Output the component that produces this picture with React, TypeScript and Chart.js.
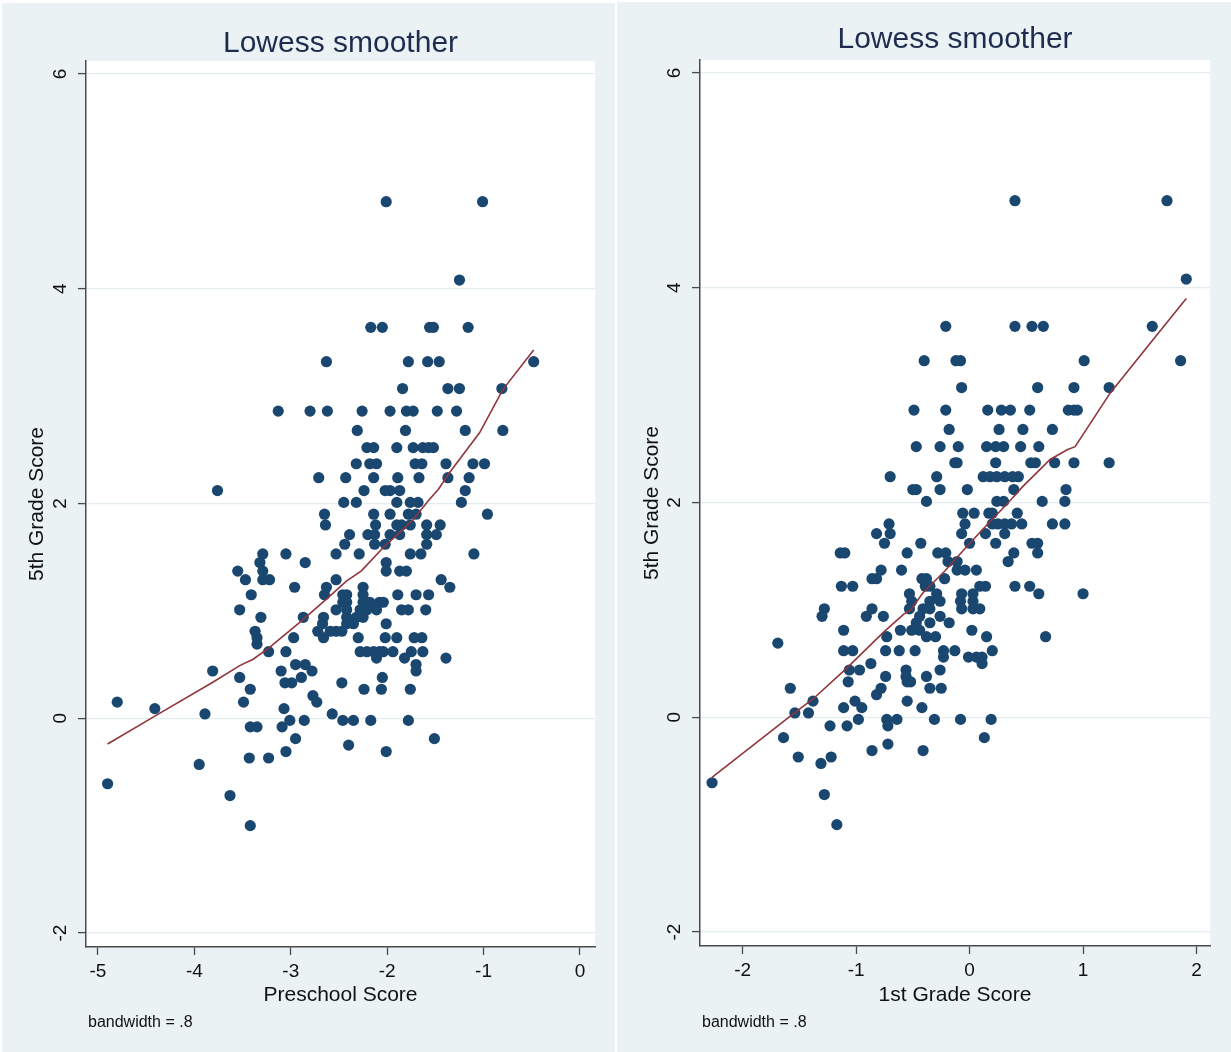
import React, { useEffect, useRef } from "react";
import { Chart, registerables } from "chart.js";

Chart.register(...registerables);

const FONT = '"Liberation Sans", Arial, Helvetica, sans-serif';

const CHART_TITLE = "Lowess smoother";
const NOTE = "bandwidth = .8";
const Y_TITLE = "5th Grade Score";
const PRESCHOOL_TITLE = "Preschool Score";
const FIRST_GRADE_TITLE = "1st Grade Score";

const Y_TICKS = [-2, 0, 2, 4, 6];
const PRESCHOOL_TICKS = [-5, -4, -3, -2, -1, 0];
const FIRST_GRADE_TICKS = [-2, -1, 0, 1, 2];

// [5th grade score, preschool scores of students with that 5th grade score]
const PRESCHOOL_ROWS: [number, number[]][] = [
  [4.81, [-2.01, -1.01]],
  [4.08, [-1.25]],
  [3.64, [-2.17, -2.05, -1.56, -1.52, -1.16]],
  [3.32, [-2.63, -1.78, -1.58, -1.46, -0.48]],
  [3.07, [-1.84, -1.37, -1.25, -0.81]],
  [2.86, [-3.13, -2.8, -2.62, -2.26, -1.97, -1.8, -1.73, -1.48, -1.28]],
  [2.68, [-2.31, -1.81, -1.19, -0.8]],
  [2.52, [-2.21, -2.14, -1.9, -1.73, -1.63, -1.57, -1.52]],
  [2.37, [-2.32, -2.18, -2.11, -1.71, -1.64, -1.39, -1.11, -0.99]],
  [2.24, [-2.71, -2.43, -2.14, -1.89, -1.67, -1.37, -1.15]],
  [2.12, [-3.76, -2.24, -2.02, -1.97, -1.87, -1.19]],
  [2.01, [-2.45, -2.32, -1.9, -1.76, -1.68, -1.23]],
  [1.9, [-2.65, -2.14, -1.97, -1.78, -1.7, -0.96]],
  [1.8, [-2.64, -2.12, -1.9, -1.85, -1.76, -1.59, -1.45]],
  [1.71, [-2.39, -2.2, -2.13, -1.97, -1.87, -1.59, -1.49]],
  [1.62, [-2.44, -2.13, -2.02, -1.59]],
  [1.53, [-3.29, -3.05, -2.53, -2.29, -1.76, -1.65, -1.1]],
  [1.45, [-3.32, -2.85, -2.01]],
  [1.37, [-3.55, -3.29, -2.01, -1.87, -1.8]],
  [1.29, [-3.47, -3.29, -3.22, -2.53, -1.44]],
  [1.22, [-2.96, -2.63, -2.25, -1.35]],
  [1.15, [-3.41, -2.65, -2.46, -2.42, -2.25, -1.89, -1.7, -1.57]],
  [1.08, [-2.46, -2.42, -2.25, -2.18, -2.08, -2.04]],
  [1.01, [-3.53, -2.53, -2.42, -2.28, -2.21, -2.11, -1.85, -1.78, -1.6]],
  [0.94, [-3.31, -2.87, -2.66, -2.42, -2.32, -2.25]],
  [0.88, [-2.67, -2.42, -2.35, -2.01]],
  [0.81, [-3.37, -2.72, -2.59, -2.53, -2.47]],
  [0.75, [-3.35, -2.97, -2.66, -2.3, -2.02, -1.9, -1.72, -1.64]],
  [0.69, [-3.35]],
  [0.62, [-3.23, -3.05, -2.28, -2.21, -2.14, -2.08, -2.04, -1.94, -1.75, -1.63]],
  [0.56, [-2.11, -1.82, -1.39]],
  [0.5, [-2.95, -2.85, -1.7]],
  [0.44, [-3.81, -3.1, -2.78, -1.7]],
  [0.38, [-3.53, -2.89, -2.05]],
  [0.33, [-3.06, -2.99, -2.47]],
  [0.27, [-3.42, -2.24, -2.06, -1.76]],
  [0.21, [-2.77]],
  [0.15, [-4.8, -3.49, -2.73]],
  [0.09, [-4.41, -3.07]],
  [0.04, [-3.89, -2.57]],
  [-0.02, [-3.01, -2.86, -2.46, -2.35, -2.17, -1.78]],
  [-0.08, [-3.42, -3.35, -3.09]],
  [-0.19, [-2.95, -1.51]],
  [-0.25, [-2.4]],
  [-0.31, [-3.05, -2.01]],
  [-0.37, [-3.43, -3.23]],
  [-0.43, [-3.95]],
  [-0.61, [-4.9]],
  [-0.72, [-3.63]],
  [-1.0, [-3.42]],
];

// [5th grade score, 1st grade scores of students with that 5th grade score]
const FIRST_GRADE_ROWS: [number, number[]][] = [
  [4.81, [0.4, 1.74]],
  [4.08, [1.91]],
  [3.64, [-0.21, 0.4, 0.55, 0.65, 1.61]],
  [3.32, [-0.4, -0.12, -0.08, 1.01, 1.86]],
  [3.07, [-0.07, 0.6, 0.92, 1.23]],
  [2.86, [-0.49, -0.21, 0.16, 0.28, 0.36, 0.53, 0.87, 0.92, 0.95]],
  [2.68, [-0.18, 0.26, 0.47, 0.73]],
  [2.52, [-0.47, -0.26, -0.1, 0.15, 0.23, 0.3, 0.45, 0.61]],
  [2.37, [-0.13, -0.11, 0.23, 0.54, 0.58, 0.75, 0.92, 1.23]],
  [2.24, [-0.7, -0.29, 0.12, 0.18, 0.24, 0.31, 0.38, 0.43]],
  [2.12, [-0.5, -0.47, -0.26, -0.02, 0.39, 0.85]],
  [2.01, [-0.38, 0.24, 0.3, 0.64, 0.84]],
  [1.9, [-0.06, 0.04, 0.17, 0.2, 0.42]],
  [1.8, [-0.71, -0.04, 0.2, 0.25, 0.31, 0.37, 0.46, 0.73, 0.84]],
  [1.71, [-0.82, -0.7, -0.07, 0.14, 0.31]],
  [1.62, [-0.75, -0.43, 0.0, 0.23, 0.55, 0.6]],
  [1.53, [-1.14, -1.1, -0.55, -0.28, -0.21, 0.39, 0.6]],
  [1.45, [-0.19, -0.11, 0.34]],
  [1.37, [-0.78, -0.6, -0.11, -0.04, 0.06]],
  [1.29, [-0.86, -0.82, -0.42, -0.38, -0.22]],
  [1.22, [-1.13, -1.03, -0.39, -0.35, 0.09, 0.14, 0.4, 0.53]],
  [1.15, [-0.53, -0.29, -0.07, 0.03, 0.61, 1.0]],
  [1.08, [-0.51, -0.35, -0.26, -0.08, 0.03]],
  [1.01, [-1.28, -0.86, -0.53, -0.41, -0.35, -0.07, 0.03, 0.09]],
  [0.94, [-1.3, -0.91, -0.76, -0.44, -0.26]],
  [0.88, [-0.47, -0.35, -0.18]],
  [0.81, [-1.11, -0.61, -0.51, -0.44, 0.02]],
  [0.75, [-0.73, -0.38, -0.3, 0.15, 0.67]],
  [0.69, [-1.69]],
  [0.62, [-1.11, -1.03, -0.74, -0.62, -0.48, -0.23, -0.13, 0.2]],
  [0.56, [-0.23, -0.01, 0.06, 0.11]],
  [0.5, [-0.87, 0.11]],
  [0.44, [-1.06, -0.97, -0.56, -0.26]],
  [0.38, [-0.74, -0.56, -0.38]],
  [0.33, [-1.07, -0.55, -0.52]],
  [0.27, [-1.58, -0.78, -0.35, -0.25]],
  [0.21, [-0.82]],
  [0.15, [-1.38, -1.01, -0.55]],
  [0.09, [-1.11, -0.95, -0.42]],
  [0.04, [-1.54, -1.42]],
  [-0.02, [-0.98, -0.73, -0.64, -0.31, -0.08, 0.19]],
  [-0.08, [-1.23, -1.08, -0.72]],
  [-0.19, [-1.64, 0.13]],
  [-0.25, [-0.72]],
  [-0.31, [-0.86, -0.41]],
  [-0.37, [-1.51, -1.22]],
  [-0.43, [-1.31]],
  [-0.61, [-2.27]],
  [-0.72, [-1.28]],
  [-1.0, [-1.17]],
];

const PRESCHOOL_LOWESS_X = [-4.9, -4.41, -3.8, -3.53, -3.39, -3.22, -2.91, -2.63, -2.42, -2.27, -2.04, -1.87, -1.73, -1.56, -1.47, -1.35, -1.04, -0.8, -0.48];
const PRESCHOOL_LOWESS_Y = [-0.24, 0.02, 0.34, 0.49, 0.55, 0.66, 0.89, 1.11, 1.28, 1.37, 1.59, 1.73, 1.85, 2.04, 2.13, 2.29, 2.66, 3.06, 3.43];

const FIRST_GRADE_LOWESS_X = [-2.27, -1.58, -1.38, -1.08, -0.76, -0.58, -0.52, -0.41, -0.22, -0.11, 0.09, 0.36, 0.47, 0.71, 0.86, 0.93, 1.24, 1.59, 1.91];
const FIRST_GRADE_LOWESS_Y = [-0.56, 0.01, 0.17, 0.46, 0.79, 0.96, 1.0, 1.16, 1.36, 1.49, 1.72, 2.02, 2.15, 2.4, 2.49, 2.52, 3.02, 3.48, 3.9];

type PanelProps = {
  rows: [number, number[]][];
  lowessX: number[];
  lowessY: number[];
  xTicks: number[];
  xMin: number;
  xMax: number;
  xTitle: string;
  left: number;
  top: number;
  width: number;
  height: number;
  yAxisWidth: number;
  padRight: number;
  titleBaseline: number;
};

const BG = "#eaf2f3";
const AXIS = "#4a4a4a";
const GRID = "#e3edef";
const MARKER = "#1a476f";
const LINE = "#90353b";
const TITLE_COLOR = "#1f2c50";

function Panel(p: PanelProps) {
  const ref = useRef<HTMLCanvasElement | null>(null);
  useEffect(() => {
    if (!ref.current) return;
    const points = p.rows.flatMap(([y, xs]) => xs.map((x) => ({ x, y })));
    const line = p.lowessX.map((x, i) => ({ x, y: p.lowessY[i] }));
    const chartHeight = p.height;
    const decor = {
      id: "panelDecor",
      beforeDraw(chart: any) {
        const { ctx, chartArea: a } = chart;
        ctx.save();
        ctx.fillStyle = "#ffffff";
        ctx.fillRect(a.left, a.top, a.right - a.left, a.bottom - a.top);
        ctx.restore();
      },
      afterDraw(chart: any) {
        const { ctx, chartArea: a } = chart;
        const ys = chart.scales.y;
        ctx.save();
        ctx.fillStyle = "#111111";
        ctx.font = `19px ${FONT}`;
        ctx.textAlign = "center";
        ctx.textBaseline = "middle";
        for (const t of ys.ticks) {
          const py = ys.getPixelForValue(t.value);
          ctx.save();
          ctx.translate(a.left - 25, py);
          ctx.rotate(-Math.PI / 2);
          ctx.fillText(String(t.value), 0, 0);
          ctx.restore();
        }
        ctx.textBaseline = "alphabetic";
        ctx.fillStyle = TITLE_COLOR;
        ctx.font = `30px ${FONT}`;
        ctx.fillText(CHART_TITLE, (a.left + a.right) / 2, p.titleBaseline);
        ctx.fillStyle = "#111111";
        ctx.font = `16px ${FONT}`;
        ctx.textAlign = "left";
        ctx.fillText(NOTE, a.left + 2, chartHeight - 25);
        ctx.restore();
      },
    };
    const chart = new Chart(ref.current, {
      type: "scatter",
      data: {
        datasets: [
          {
            type: "line",
            data: line,
            borderColor: LINE,
            borderWidth: 1.6,
            pointRadius: 0,
            fill: false,
            tension: 0,
            showLine: true,
          } as any,
          {
            type: "scatter",
            data: points,
            backgroundColor: MARKER,
            borderWidth: 0,
            pointRadius: 5.6,
            pointHoverRadius: 5.6,
          },
        ],
      },
      options: {
        animation: false,
        responsive: false,
        events: [],
        layout: { padding: { left: 0, right: p.padRight, top: 58, bottom: 0 } },
        plugins: {
          legend: { display: false },
          title: { display: false },
          tooltip: { enabled: false },
        },
        scales: {
          x: {
            type: "linear",
            min: p.xMin,
            max: p.xMax,
            afterBuildTicks: (s: any) => {
              s.ticks = p.xTicks.map((v) => ({ value: v }));
            },
            afterFit: (s: any) => {
              s.height = chartHeight - 944;
            },
            grid: {
              drawOnChartArea: false,
              drawTicks: true,
              tickLength: 8,
              tickColor: AXIS,
              tickWidth: 1.3,
            },
            border: { display: true, color: AXIS, width: 1.5 },
            ticks: {
              color: "#111111",
              font: { family: FONT, size: 19 },
              padding: 5,
              maxRotation: 0,
              minRotation: 0,
              autoSkip: false,
              callback: (v: any) => String(v),
            },
            title: {
              display: true,
              text: p.xTitle,
              color: "#111111",
              font: { family: FONT, size: 21 },
              padding: { top: 0, bottom: 44 },
            },
          },
          y: {
            type: "linear",
            min: -2.13,
            max: 6.12,
            afterBuildTicks: (s: any) => {
              s.ticks = Y_TICKS.map((v) => ({ value: v }));
            },
            afterFit: (s: any) => {
              s.width = p.yAxisWidth;
            },
            grid: {
              drawOnChartArea: true,
              color: GRID,
              lineWidth: 1.2,
              drawTicks: true,
              tickLength: 8,
              tickColor: AXIS,
              tickWidth: 1.3,
            },
            border: { display: true, color: AXIS, width: 1.5 },
            ticks: { display: false },
            title: {
              display: true,
              text: Y_TITLE,
              color: "#111111",
              font: { family: FONT, size: 21 },
              padding: { top: 23, bottom: 0 },
            },
          },
        },
      },
      plugins: [decor],
    } as any);
    return () => chart.destroy();
  }, []);
  return (
    <div
      style={{
        position: "absolute",
        left: p.left,
        top: p.top,
        width: p.width,
        height: p.height,
        background: BG,
      }}
    >
      <canvas ref={ref} width={p.width} height={p.height} style={{ display: "block" }} />
    </div>
  );
}

export default function App() {
  return (
    <div
      style={{
        position: "absolute",
        left: 0,
        top: 0,
        width: 1231,
        height: 1052,
        background: "#ffffff",
        overflow: "hidden",
      }}
    >
      <Panel
        rows={PRESCHOOL_ROWS}
        lowessX={PRESCHOOL_LOWESS_X}
        lowessY={PRESCHOOL_LOWESS_Y}
        xTicks={PRESCHOOL_TICKS}
        xMin={-5.124}
        xMax={0.156}
        xTitle={PRESCHOOL_TITLE}
        left={2}
        top={3}
        width={613}
        height={1049}
        yAxisWidth={84}
        padRight={20}
        titleBaseline={49}
      />
      <Panel
        rows={FIRST_GRADE_ROWS}
        lowessX={FIRST_GRADE_LOWESS_X}
        lowessY={FIRST_GRADE_LOWESS_Y}
        xTicks={FIRST_GRADE_TICKS}
        xMin={-2.376}
        xMax={2.119}
        xTitle={FIRST_GRADE_TITLE}
        left={617}
        top={2}
        width={614}
        height={1050}
        yAxisWidth={83}
        padRight={21}
        titleBaseline={46}
      />
    </div>
  );
}
